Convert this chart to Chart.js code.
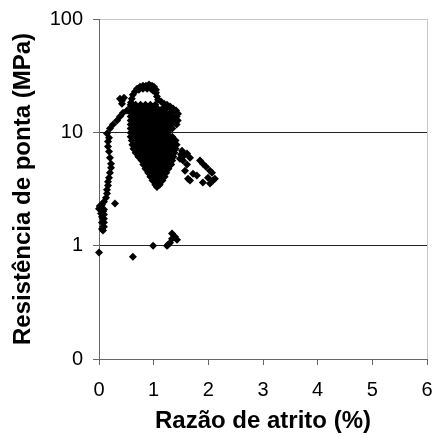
<!DOCTYPE html>
<html><head><meta charset="utf-8">
<script src="https://cdn.jsdelivr.net/npm/chart.js@4/dist/chart.umd.min.js"></script>
<style>html,body{margin:0;padding:0;background:#fff;overflow:hidden}#wrap{position:relative;width:435px;height:436px}</style>
</head><body>
<div id="wrap"><canvas id="c"></canvas></div>
<script>
// ---- data ----
const xTickValues = [0, 1, 2, 3, 4, 5, 6];
const yTickValues = [0.1, 1, 10, 100];
const yTickLabels = ['0', '1', '10', '100'];

// isolated low points
const lowX = [0, 0.62, 0.99, 1.244, 1.262, 1.30, 1.335, 1.335, 1.39, 1.427];
const lowY = [0.87, 0.80, 1.0, 1.0, 1.02, 1.06, 1.15, 1.28, 1.20, 1.13];

// near-vertical chain at small friction ratio
const chainX = [0.073, 0.09, 0.09, 0.09, 0.09, 0.073, 0.037, 0, 0.018, 0.055, 0.09, 0.128, 0.146, 0.146, 0.165, 0.165, 0.183, 0.20, 0.22, 0.22, 0.20, 0.183, 0.165, 0.165, 0.183, 0.293, 0.055, 0.055, 0.073, 0.037, 0.073, 0.09, 0.055, 0.018];
const chainY = [1.36, 1.47, 1.60, 1.73, 1.88, 2.0, 2.08, 2.12, 2.21, 2.30, 2.44, 2.65, 2.88, 3.12, 3.39, 3.67, 3.98, 4.41, 4.88, 5.29, 5.98, 6.76, 7.48, 8.28, 8.98, 2.35, 1.80, 1.60, 1.47, 1.92, 1.73, 2.08, 1.40, 2.25];

// diagonal rising to the loop
const diagX = [0.146, 0.20, 0.256, 0.33, 0.384, 0.44, 0.512, 0.42, 0.384, 0.457, 0.42];
const diagY = [9.75, 10.8, 11.7, 12.7, 13.8, 14.9, 15.6, 17.9, 19.8, 20.2, 19.0];

// upper loop
const loopX = [0.585, 0.585, 0.60, 0.62, 0.66, 0.695, 0.75, 0.805, 0.86, 0.915, 0.97, 1.006, 1.043, 1.043, 1.06, 1.08, 1.134, 1.19, 1.244, 1.30, 1.354, 1.41, 1.445, 0.73, 0.805, 0.88, 0.95, 0.99];
const loopY = [16.9, 18.3, 19.8, 21.5, 22.9, 24.3, 25.3, 25.8, 25.8, 26.4, 25.8, 25.3, 23.8, 22.4, 20.7, 19.4, 18.7, 17.9, 17.5, 16.9, 16.2, 15.6, 14.6, 23.8, 24.3, 24.3, 24.3, 23.3];

// dense main cloud, one row per tip-resistance level
const cloudRowY = [17.5, 16.2, 14.9, 13.8, 12.7, 11.7, 10.8, 9.94, 9.16, 8.45, 7.79, 7.18, 6.62, 6.10, 5.63, 5.19, 4.78, 4.41, 4.06, 3.75, 3.45, 3.30];
const cloudRowX = [
  [0.58, 0.67, 0.76, 0.85, 0.94, 1.03],
  [0.62, 0.71, 0.80, 0.89, 0.98, 1.07, 1.16, 1.23],
  [0.58, 0.67, 0.76, 0.85, 0.94, 1.03, 1.12, 1.21, 1.30, 1.34],
  [0.58, 0.62, 0.71, 0.80, 0.89, 0.98, 1.07, 1.16, 1.25, 1.34, 1.42],
  [0.58, 0.67, 0.76, 0.85, 0.94, 1.03, 1.12, 1.21, 1.30, 1.39, 1.44],
  [0.58, 0.62, 0.71, 0.80, 0.89, 0.98, 1.07, 1.16, 1.25, 1.34, 1.42],
  [0.58, 0.67, 0.76, 0.85, 0.94, 1.03, 1.12, 1.21, 1.30, 1.34],
  [0.58, 0.62, 0.71, 0.80, 0.89, 0.98, 1.07, 1.16, 1.25],
  [0.58, 0.67, 0.76, 0.85, 0.94, 1.03, 1.12, 1.21, 1.30, 1.34],
  [0.60, 0.71, 0.80, 0.89, 0.98, 1.07, 1.16, 1.25, 1.34, 1.40],
  [0.61, 0.67, 0.76, 0.85, 0.94, 1.03, 1.12, 1.21, 1.30, 1.39, 1.42],
  [0.63, 0.71, 0.80, 0.89, 0.98, 1.07, 1.16, 1.25, 1.34, 1.40],
  [0.67, 0.76, 0.85, 0.94, 1.03, 1.12, 1.21, 1.30, 1.38],
  [0.72, 0.80, 0.89, 0.98, 1.07, 1.16, 1.25, 1.34, 1.36],
  [0.78, 0.85, 0.94, 1.03, 1.12, 1.21, 1.30, 1.34],
  [0.81, 0.89, 0.98, 1.07, 1.16, 1.25, 1.32],
  [0.85, 0.94, 1.03, 1.12, 1.21, 1.27],
  [0.90, 0.98, 1.07, 1.16, 1.23],
  [0.94, 1.03, 1.12, 1.20],
  [0.98, 1.07, 1.16],
  [1.03, 1.11],
  [1.06]
];

// scattered tail to the right
const tailX = [1.518, 1.555, 1.61, 1.665, 1.536, 1.61, 1.847, 1.90, 1.957, 2.03, 2.067, 1.72, 1.79, 1.628, 1.665, 1.994, 2.085, 2.03, 1.90, 2.12, 1.48, 1.50, 1.573];
const tailY = [6.89, 6.23, 6.49, 5.98, 5.63, 5.19, 5.63, 5.29, 4.98, 4.59, 4.41, 4.32, 4.15, 3.90, 3.75, 3.98, 3.75, 3.53, 3.60, 3.90, 5.86, 6.36, 4.59];

// ---- build the point table ----
const points = [];
function addPairs(xs, ys) { xs.forEach((x, i) => points.push({ x: x, y: ys[i] })); }
addPairs(lowX, lowY);
addPairs(chainX, chainY);
addPairs(diagX, diagY);
addPairs(loopX, loopY);
cloudRowY.forEach((y, r) => cloudRowX[r].forEach(x => points.push({ x: x, y: y })));
addPairs(tailX, tailY);

const tickFont = { family: 'Liberation Sans', size: 20 };
const axisGray = '#666666';

new Chart(document.getElementById('c'), {
  type: 'scatter',
  data: {
    datasets: [{
      data: points,
      pointStyle: 'rectRot',
      pointRadius: 4,
      pointBackgroundColor: '#000',
      pointBorderWidth: 0,
      clip: false
    }]
  },
  options: {
    responsive: true,
    maintainAspectRatio: false,
    animation: false,
    layout: { padding: { top: 19, right: 8, left: 0, bottom: 0 } },
    plugins: { legend: { display: false }, tooltip: { enabled: false } },
    scales: {
      x: {
        type: 'linear',
        min: 0, max: 6,
        afterBuildTicks: s => { s.ticks = xTickValues.map(v => ({ value: v })); },
        afterFit: s => { s.height = 77; s.paddingLeft = 0; s.paddingRight = 0; },
        ticks: { font: tickFont, color: '#000', padding: 13, maxRotation: 0 },
        grid: {
          color: c => (c.tick && c.tick.value === 6) ? '#c8c8c8' : 'rgba(0,0,0,0)',
          tickColor: axisGray,
          tickLength: 6
        },
        border: { color: axisGray },
        title: {
          display: true, text: 'Razão de atrito (%)', color: '#000',
          font: { family: 'Liberation Sans', size: 24, weight: 'bold' },
          padding: { top: 0, bottom: 0 }
        }
      },
      y: {
        type: 'logarithmic',
        min: 0.1, max: 100,
        afterBuildTicks: s => { s.ticks = yTickValues.map(v => ({ value: v })); },
        afterFit: s => { s.width = 99; s.paddingTop = 0; s.paddingBottom = 0; },
        ticks: {
          font: tickFont, color: '#000', padding: 10,
          callback: v => { const i = yTickValues.indexOf(v); return i >= 0 ? yTickLabels[i] : ''; }
        },
        grid: {
          color: c => {
            if (!c.tick) return 'rgba(0,0,0,0)';
            if (c.tick.value === 1 || c.tick.value === 10) return '#222';
            if (c.tick.value === 100) return '#c8c8c8';
            return 'rgba(0,0,0,0)';
          },
          tickColor: axisGray,
          tickLength: 6
        },
        border: { color: axisGray },
        title: {
          display: true, text: 'Resistência de ponta (MPa)', color: '#000',
          font: { family: 'Liberation Sans', size: 24, weight: 'bold' },
          padding: { top: 9, bottom: 0 }
        }
      }
    }
  }
});
</script>
</body></html>
